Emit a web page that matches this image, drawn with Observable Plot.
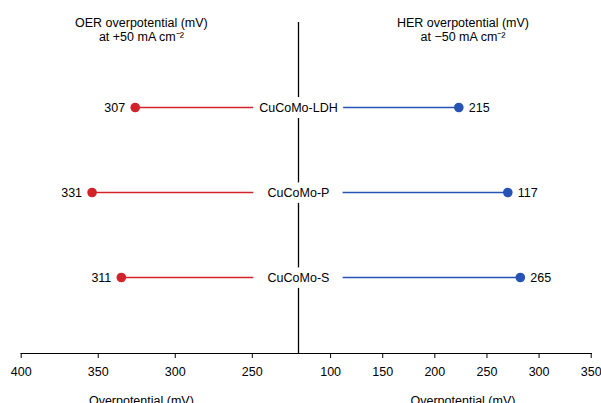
<!DOCTYPE html>
<html><head><meta charset="utf-8">
<script src="https://cdn.jsdelivr.net/npm/d3@7"></script>
<script src="https://cdn.jsdelivr.net/npm/@observablehq/plot@0.6"></script>
<style>
body{margin:0;background:#fff;}
#chart{position:relative;width:601px;height:403px;overflow:hidden;background:#fff;}
#chart svg{position:absolute;left:0;top:0;}
</style></head><body><div id="chart"></div>
<script>
// Data
const catalysts = ["CuCoMo-LDH", "CuCoMo-P", "CuCoMo-S"];
const oerValues = [326, 354, 335];      // positions
const herValues = [223, 270, 282];      // positions
const oerLabels = ["307", "331", "311"];
const herLabels = ["215", "117", "265"];
const oerTicks = [400, 350, 300, 250];
const herTicks = [100, 150, 200, 250, 300, 350];
const oerDomain = [400, 220];
const herDomain = [69.2, 350];
const oerLineEnd = 249;
const herLineStart = 112;
const oerTitle = "OER overpotential (mV)\nat +50 mA cm\u207B\u00B2";
const herTitle = "HER overpotential (mV)\nat \u221250 mA cm\u207B\u00B2";
const axisTitle = "Overpotential (mV)";

const rows = catalysts.map((c, i) => ({
  catalyst: c, oer: oerValues[i], her: herValues[i],
  oerLabel: oerLabels[i], herLabel: herLabels[i]
}));

const red = "#d3222a", blue = "#2653b5";
const font = "'Liberation Sans', Arial, Helvetica, sans-serif";
const fs = 12.5;
const common = {
  width: 601, height: 403, marginTop: 22, marginBottom: 50,
  style: {fontFamily: font, fontSize: "12.5px", background: "transparent", color: "black", overflow: "visible"},
  y: {type: "point", domain: catalysts, range: [107.3, 277.7], padding: 0, axis: null}
};

const left = Plot.plot({
  ...common,
  marginLeft: 20.7, marginRight: 303,
  x: {domain: oerDomain, ticks: oerTicks, tickSize: 5, tickPadding: 9, label: null},
  marks: [
    Plot.frame({anchor: "bottom", stroke: "black", strokeWidth: 1.2}),
    Plot.ruleY(rows, {y: "catalyst", x1: "oer", x2: () => oerLineEnd, stroke: red, strokeWidth: 1.6}),
    Plot.dot(rows, {x: "oer", y: "catalyst", r: 4.8, fill: red}),
    Plot.text(rows, {x: "oer", y: "catalyst", text: "oerLabel", textAnchor: "end", dx: -10, fontSize: fs}),
    Plot.text([oerTitle], {x: () => 322, frameAnchor: "top", lineAnchor: "top", dy: -5, lineHeight: 1.1, fontSize: fs}),
    Plot.text([axisTitle], {x: () => 322, frameAnchor: "bottom", lineAnchor: "top", dy: 43, fontSize: fs})
  ]
});

const right = Plot.plot({
  ...common,
  marginLeft: 298, marginRight: 10.3,
  x: {domain: herDomain, ticks: herTicks, tickSize: 5, tickPadding: 9, label: null},
  marks: [
    Plot.frame({anchor: "bottom", stroke: "black", strokeWidth: 1.2}),
    Plot.ruleX([herDomain[0]], {stroke: "black", strokeWidth: 1.3}),
    Plot.ruleY(rows, {y: "catalyst", x1: () => herLineStart, x2: "her", stroke: blue, strokeWidth: 1.6}),
    Plot.dot(rows, {x: "her", y: "catalyst", r: 4.8, fill: blue}),
    Plot.text(rows, {x: "her", y: "catalyst", text: "herLabel", textAnchor: "start", dx: 10, fontSize: fs}),
    Plot.text(rows, {x: () => herDomain[0], y: "catalyst", text: "catalyst", fill: "black", stroke: "white", strokeWidth: 12, fontSize: fs}),
    Plot.text([herTitle], {x: () => 227, frameAnchor: "top", lineAnchor: "top", dy: -5, lineHeight: 1.1, fontSize: fs}),
    Plot.text([axisTitle], {x: () => 227, frameAnchor: "bottom", lineAnchor: "top", dy: 43, fontSize: fs})
  ]
});

const chart = document.getElementById("chart");
chart.appendChild(left);
chart.appendChild(right);
</script>
</body></html>
